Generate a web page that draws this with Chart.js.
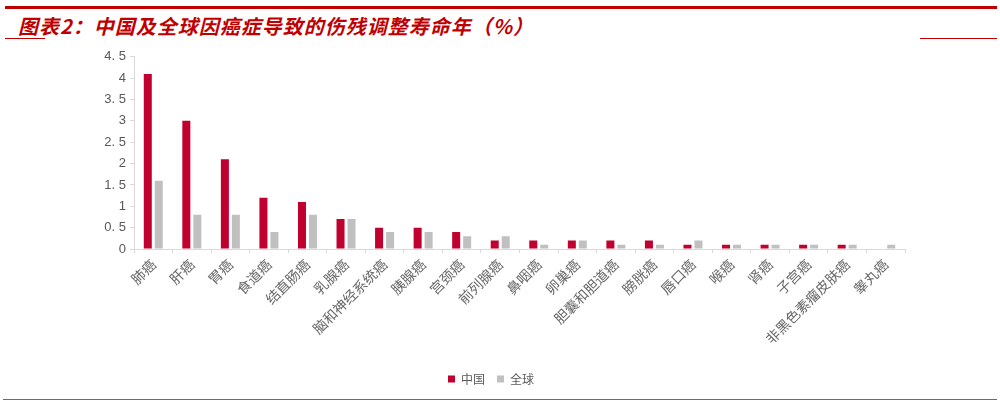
<!DOCTYPE html>
<html>
<head>
<meta charset="utf-8">
<script src="https://cdn.jsdelivr.net/npm/chart.js@4.4.0/dist/chart.umd.min.js"></script>
<style>
  body { margin:0; background:#fff; width:1000px; height:404px; position:relative; overflow:hidden; font-family:"Noto Sans CJK SC", sans-serif; }
  .topline { position:absolute; left:5px; right:3px; top:6px; height:3px; background:#c00000; }
  .title { position:absolute; left:18px; top:11px; font-size:20px; font-weight:bold; font-style:italic; color:#c00000; letter-spacing:1px; }
  .lline { position:absolute; left:5px; width:40px; top:38px; height:1px; background:#c00000; }
  .rline { position:absolute; left:920px; width:77px; top:38px; height:1px; background:#c00000; }
  .botline { position:absolute; left:3px; right:3px; top:399px; height:1px; background:#d04040; }
  #wrap { position:absolute; left:77px; top:45px; width:853px; height:350px; }
</style>
</head>
<body>
<div class="topline"></div>
<div class="title">图表2：中国及全球因癌症导致的伤残调整寿命年（%）</div>
<div class="lline"></div>
<div class="rline"></div>
<div class="botline"></div>
<div id="wrap"><canvas id="myChart"></canvas></div>
<script>
const labels = ['肺癌','肝癌','胃癌','食道癌','结直肠癌','乳腺癌','脑和神经系统癌','胰腺癌','宫颈癌','前列腺癌','鼻咽癌','卵巢癌','胆囊和胆道癌','膀胱癌','唇口癌','喉癌','肾癌','子宫癌','非黑色素瘤皮肤癌','睾丸癌']
const china = [4.1,3.0,2.1,1.2,1.1,0.7,0.5,0.5,0.4,0.2,0.2,0.2,0.2,0.2,0.1,0.1,0.1,0.1,0.1,0]
const world = [1.6,0.8,0.8,0.4,0.8,0.7,0.4,0.4,0.3,0.3,0.1,0.2,0.1,0.1,0.2,0.1,0.1,0.1,0.1,0.1]

var ctx = document.getElementById('myChart').getContext('2d');
const chart = new Chart(ctx,{
    type:'bar',
    data:{
        labels: labels,
        datasets: [{ label: '中国',
                     backgroundColor: '#c0002f',
                     data: china
        },{
                     label: '全球',
                     backgroundColor: '#c0c0c0',
                     data: world
        }]
    },
    options:{
        responsive:true,
        maintainAspectRatio:false,
        animation:false,
        categoryPercentage:0.57,
        barPercentage:0.73,
        layout:{ padding:{ left:0, right:25, top:6, bottom:0 } },
        plugins:{
            legend:{
                position:'bottom',
                labels:{ boxWidth:7, boxHeight:7, padding:12, color:'#595959',
                         font:{ family:'"Noto Sans CJK SC"', size:12 } }
            },
            tooltip:{ enabled:false }
        },
        scales:{
            x:{
                afterFit:function(s){ s.height = 112; },
                grid:{ display:true, drawOnChartArea:false, drawTicks:true, tickLength:4, color:'#d9d9d9', offset:true },
                border:{ display:true, color:'#d9d9d9', width:1 },
                ticks:{ minRotation:45, maxRotation:45, autoSkip:false, color:'#666666', padding:3,
                        font:{ family:'"Noto Sans CJK SC"', size:14 } }
            },
            y:{
                min:0, max:4.5,
                afterFit:function(s){ s.width = 57; },
                grid:{ display:true, drawOnChartArea:false, drawTicks:true, tickLength:4, color:'#d9d9d9' },
                border:{ display:true, color:'#d9d9d9', width:1 },
                ticks:{ stepSize:0.5, color:'#595959', padding:4,
                        font:{ family:'Arial, "Liberation Sans"', size:13 },
                        callback:function(v){ return String(v).replace('.', '. '); } }
            }
        }
    }
});
</script>
</body>
</html>
